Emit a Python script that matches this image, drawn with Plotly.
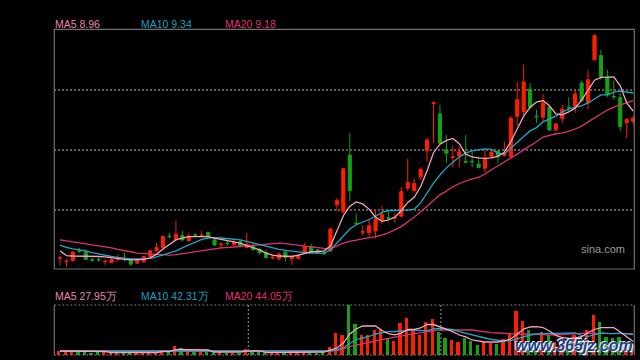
import plotly.graph_objects as go

# ---- price data (one entry per trading day) ----
open_ = [5.85, 5.78, 5.80, 6.01, 5.99, 5.82, 5.83, 5.78, 5.76, 5.83,
         5.84, 5.82, 5.75, 5.78, 5.89, 6.01, 6.08, 6.32, 6.25, 6.33,
         6.22, 6.35, 6.33, 6.40, 6.24, 6.14, 6.17, 6.14, 6.20, 6.08,
         6.12, 6.04, 5.97, 5.86, 5.84, 5.98, 5.84, 5.85, 5.97, 6.10,
         6.03, 5.96, 6.01, 6.98, 6.84, 8.03, 6.59, 6.40, 6.39, 6.43,
         6.66, 6.71, 6.70, 6.74, 7.33, 7.28, 7.57, 8.12, 9.12, 8.90,
         8.14, 7.98, 8.01, 7.89, 7.90, 7.84, 7.75, 8.00, 8.11, 8.02,
         8.00, 8.85, 8.95, 9.42, 8.85, 8.83, 9.04, 8.56, 8.80, 9.04,
         9.06, 9.55, 9.13, 10.04, 10.13, 9.67, 9.27, 9.24, 8.71, 8.74]
close = [5.86, 5.79, 5.98, 6.00, 5.83, 5.81, 5.82, 5.79, 5.83, 5.84,
         5.83, 5.73, 5.82, 5.89, 6.01, 6.08, 6.31, 6.31, 6.36, 6.24,
         6.32, 6.34, 6.34, 6.31, 6.13, 6.15, 6.16, 6.19, 6.11, 6.15,
         6.04, 5.97, 5.87, 5.87, 5.94, 5.87, 5.87, 5.91, 6.10, 5.99,
         5.98, 5.95, 6.47, 7.07, 7.74, 7.28, 6.58, 6.41, 6.54, 6.67,
         6.78, 6.70, 6.71, 7.26, 7.45, 7.43, 7.73, 8.35, 9.14, 8.28,
         8.07, 7.99, 8.10, 7.88, 7.89, 7.77, 7.96, 8.09, 8.00, 8.07,
         8.81, 9.20, 9.57, 9.04, 8.84, 9.13, 8.56, 8.69, 9.00, 9.03,
         9.32, 9.18, 9.62, 10.55, 9.69, 9.30, 9.26, 8.63, 8.78, 8.81]
high = [5.90, 5.84, 6.01, 6.07, 6.04, 5.86, 5.87, 5.83, 5.85, 5.93,
        5.97, 5.85, 5.85, 5.90, 6.04, 6.18, 6.33, 6.38, 6.65, 6.43,
        6.38, 6.38, 6.43, 6.41, 6.26, 6.19, 6.24, 6.27, 6.24, 6.38,
        6.17, 6.08, 6.03, 5.92, 5.98, 6.03, 5.92, 5.94, 6.18, 6.15,
        6.05, 6.01, 6.49, 7.12, 7.76, 8.50, 6.80, 6.54, 6.66, 6.87,
        6.96, 6.84, 6.80, 7.36, 7.95, 7.54, 7.77, 8.40, 9.16, 9.09,
        8.45, 8.23, 8.21, 8.45, 8.10, 8.00, 8.14, 8.14, 8.14, 8.32,
        8.85, 9.57, 9.94, 9.55, 8.99, 9.32, 9.09, 8.71, 9.09, 9.25,
        9.41, 9.60, 9.82, 10.58, 10.25, 9.83, 9.60, 9.34, 8.81, 8.86]
low = [5.70, 5.67, 5.79, 5.96, 5.82, 5.78, 5.78, 5.71, 5.75, 5.78,
       5.79, 5.69, 5.73, 5.76, 5.87, 5.99, 6.06, 6.27, 6.24, 6.21,
       6.21, 6.31, 6.30, 6.30, 6.12, 6.05, 6.12, 6.12, 6.08, 6.06,
       6.01, 5.94, 5.85, 5.83, 5.80, 5.78, 5.72, 5.83, 5.94, 5.97,
       5.96, 5.92, 5.99, 6.84, 6.80, 7.05, 6.57, 6.34, 6.31, 6.27,
       6.58, 6.67, 6.60, 6.73, 7.28, 7.26, 7.50, 7.89, 8.28, 8.26,
       7.87, 7.77, 7.77, 7.86, 7.77, 7.75, 7.67, 7.97, 7.86, 8.00,
       7.98, 8.64, 8.87, 8.99, 8.71, 8.73, 8.54, 8.54, 8.71, 8.95,
       8.92, 9.15, 8.99, 10.03, 9.62, 9.25, 9.20, 8.53, 8.39, 8.67]

ma5 = [6.01, 5.91, 5.90, 5.90, 5.90, 5.90, 5.89, 5.88, 5.86, 5.84,
       5.83, 5.82, 5.82, 5.83, 5.86, 5.94, 6.05, 6.15, 6.24, 6.28,
       6.31, 6.31, 6.31, 6.31, 6.28, 6.25, 6.22, 6.19, 6.17, 6.12,
       6.08, 6.03, 5.96, 5.92, 5.90, 5.89, 5.89, 5.92, 5.96, 5.99,
       5.99, 6.01, 6.11, 6.45, 6.75, 6.95, 7.04, 7.00, 6.89, 6.72,
       6.63, 6.66, 6.72, 6.86, 7.03, 7.14, 7.36, 7.70, 8.08, 8.26,
       8.34, 8.38, 8.27, 8.05, 7.99, 7.97, 7.96, 7.97, 8.00, 8.09,
       8.31, 8.58, 8.85, 9.04, 9.15, 9.18, 9.07, 8.90, 8.88, 8.94,
       9.02, 9.19, 9.40, 9.61, 9.67, 9.67, 9.68, 9.49, 9.13, 8.96]
ma10 = [6.13, 6.08, 6.05, 6.03, 6.01, 5.97, 5.94, 5.92, 5.89, 5.87,
        5.85, 5.84, 5.84, 5.84, 5.85, 5.88, 5.92, 5.96, 6.01, 6.07,
        6.13, 6.20, 6.25, 6.28, 6.29, 6.28, 6.27, 6.26, 6.24, 6.21,
        6.17, 6.14, 6.11, 6.07, 6.04, 6.02, 6.00, 5.99, 5.97, 5.96,
        5.96, 5.96, 6.03, 6.18, 6.34, 6.47, 6.56, 6.61, 6.67, 6.74,
        6.82, 6.86, 6.87, 6.87, 6.87, 6.89, 7.02, 7.23, 7.44, 7.61,
        7.76, 7.88, 7.99, 8.07, 8.12, 8.14, 8.16, 8.15, 8.07, 8.05,
        8.18, 8.31, 8.42, 8.54, 8.61, 8.73, 8.79, 8.85, 8.94, 9.00,
        9.04, 9.07, 9.13, 9.21, 9.30, 9.30, 9.36, 9.38, 9.36, 9.34]
ma20 = [6.24, 6.22, 6.20, 6.17, 6.15, 6.13, 6.11, 6.09, 6.07, 6.04,
        6.02, 5.99, 5.96, 5.95, 5.94, 5.93, 5.92, 5.92, 5.93, 5.95,
        5.97, 6.00, 6.02, 6.03, 6.05, 6.07, 6.08, 6.09, 6.10, 6.12,
        6.13, 6.14, 6.15, 6.16, 6.17, 6.16, 6.15, 6.13, 6.11, 6.09,
        6.07, 6.06, 6.05, 6.11, 6.17, 6.21, 6.24, 6.27, 6.29, 6.31,
        6.34, 6.39, 6.45, 6.52, 6.62, 6.72, 6.83, 6.95, 7.08, 7.19,
        7.27, 7.36, 7.43, 7.48, 7.53, 7.56, 7.63, 7.72, 7.80, 7.88,
        7.97, 8.05, 8.14, 8.22, 8.31, 8.41, 8.45, 8.48, 8.50, 8.53,
        8.58, 8.64, 8.73, 8.81, 8.90, 8.98, 9.04, 9.09, 9.13, 9.18]

# ---- volume data (万股) ----
volume = [8.3, 8.3, 8.3, 6.2, 6.2, 4.1, 6.2, 5.2, 4.1, 4.1,
          4.1, 4.1, 4.1, 5.2, 5.2, 5.2, 10.4, 6.2, 18.6, 14.5,
          7.2, 6.2, 6.2, 6.2, 5.2, 5.2, 4.1, 4.1, 4.1, 12.4,
          5.2, 5.2, 4.1, 4.1, 4.1, 4.1, 4.1, 4.1, 5.2, 5.2,
          4.1, 6.8, 16.6, 45.5, 41.4, 103.5, 64.2, 41.4, 41.4, 51.8,
          53.8, 33.1, 29.0, 66.2, 76.6, 51.8, 41.4, 68.3, 74.5, 47.6,
          35.2, 31.1, 26.9, 34.2, 29.0, 20.7, 26.9, 24.8, 23.8, 32.1,
          43.5, 91.1, 70.4, 51.8, 26.9, 47.6, 41.4, 26.9, 33.1, 26.9,
          41.4, 37.3, 51.8, 82.8, 68.3, 37.3, 35.2, 37.3, 20.7, 10.4]
vma5 = [8.3, 8.3, 8.3, 7.2, 7.2, 7.2, 7.2, 7.2, 5.2, 5.2,
        5.2, 5.2, 5.2, 5.2, 5.2, 5.2, 7.2, 7.2, 11.4, 11.4,
        11.4, 10.4, 10.4, 10.4, 6.2, 6.2, 6.2, 6.2, 6.2, 8.3,
        8.3, 8.3, 5.2, 5.2, 5.2, 5.2, 5.2, 5.2, 5.2, 5.2,
        5.2, 6.2, 10.4, 14.5, 24.8, 43.5, 53.8, 60.0, 60.0, 60.0,
        50.7, 44.3, 41.8, 45.5, 52.8, 53.2, 55.9, 63.1, 63.1, 58.0,
        53.8, 48.2, 41.4, 37.3, 31.1, 29.0, 26.9, 26.9, 26.9, 29.0,
        33.1, 43.5, 53.8, 58.0, 58.6, 56.9, 49.7, 40.4, 36.2, 34.6,
        35.2, 37.9, 46.6, 52.8, 56.5, 56.5, 56.5, 47.6, 37.3, 27.95]
vma10 = [8.3, 8.3, 8.3, 8.3, 8.3, 8.3, 8.3, 8.3, 6.8, 6.8,
         6.8, 6.8, 6.8, 6.8, 6.8, 6.8, 8.3, 8.3, 8.3, 8.3,
         8.3, 8.3, 8.3, 8.3, 8.3, 8.3, 8.3, 8.3, 8.3, 8.3,
         6.8, 6.8, 6.8, 6.8, 6.8, 6.8, 6.8, 6.8, 6.8, 6.8,
         6.8, 6.8, 8.3, 11.4, 14.5, 23.8, 32.1, 35.2, 38.3, 43.5,
         46.6, 48.2, 48.6, 49.7, 51.8, 51.8, 50.7, 50.3, 53.8, 55.3,
         53.8, 53.2, 48.6, 44.9, 41.4, 37.9, 35.2, 32.1, 31.1, 29.0,
         30.0, 34.2, 38.3, 41.4, 43.5, 44.5, 44.9, 44.9, 44.9, 44.9,
         45.8, 40.4, 38.5, 41.6, 45.8, 44.7, 44.1, 45.1, 43.9, 42.31]
vma20 = [8.3, 8.3, 8.3, 8.3, 8.3, 8.3, 8.3, 8.3, 8.3, 8.3,
         8.3, 8.3, 8.3, 8.3, 8.3, 8.3, 8.3, 8.3, 8.3, 8.3,
         7.2, 7.2, 7.2, 7.2, 7.2, 7.2, 7.2, 7.2, 7.2, 7.2,
         7.2, 7.2, 7.2, 7.2, 7.2, 7.2, 7.2, 7.2, 7.2, 7.2,
         7.2, 7.2, 8.3, 9.3, 12.4, 17.6, 20.7, 22.8, 25.9, 29.0,
         32.1, 34.2, 36.2, 39.3, 42.4, 44.5, 46.6, 48.6, 50.7, 51.8,
         51.8, 51.8, 51.8, 51.8, 51.8, 49.7, 47.6, 46.2, 45.5, 44.5,
         43.5, 43.5, 43.5, 43.5, 42.4, 42.4, 41.4, 41.4, 42.4, 43.5,
         44.5, 44.9, 44.9, 44.9, 44.9, 44.9, 44.9, 44.5, 44.5, 44.05]

price_labels = ["MA5 8.96", "MA10 9.34", "MA20 9.18"]
volume_labels = ["MA5 27.95万", "MA10 42.31万", "MA20 44.05万"]
month_breaks = [29.25, 59.15]   # separators drawn in the volume pane

UP = "#ff1e00"
DOWN = "#14a214"
C5 = "#f2a3bd"
C10 = "#1ca6c6"
C20 = "#d8336e"
T5 = "#e888a6"
T10 = "#1a9fbf"
T20 = "#e0306c"

idx = list(range(len(close)))
W, H = 640, 360
XL, XR = 54.3 / W, 634.3 / W

fig = go.Figure()
fig.add_trace(go.Candlestick(
    x=idx, open=open_, high=high, low=low, close=close,
    increasing=dict(line=dict(color=UP, width=1), fillcolor=UP),
    decreasing=dict(line=dict(color=DOWN, width=1), fillcolor=DOWN),
    whiskerwidth=0, hoverinfo="skip", xaxis="x", yaxis="y"))
for arr, col in ((ma20, C20), (ma10, C10), (ma5, C5)):
    fig.add_trace(go.Scatter(x=idx, y=arr, mode="lines",
                             line=dict(color=col, width=1.3),
                             hoverinfo="skip", xaxis="x", yaxis="y"))

bar_colors = [UP if c >= o else DOWN for o, c in zip(open_, close)]
fig.add_trace(go.Bar(x=idx, y=volume, width=0.5, offset=-0.45,
                     marker=dict(color=bar_colors, line=dict(width=0)),
                     hoverinfo="skip", xaxis="x2", yaxis="y2"))
for arr, col in ((vma20, C20), (vma10, C10), (vma5, C5)):
    fig.add_trace(go.Scatter(x=idx, y=arr, mode="lines",
                             line=dict(color=col, width=1.3),
                             hoverinfo="skip", xaxis="x2", yaxis="y2"))

xr = [-0.885, 89.18]
grid_prices = [6.871, 8.137, 9.403]
fig.update_layout(
    width=W, height=H, margin=dict(l=0, r=0, t=0, b=0),
    paper_bgcolor="black", plot_bgcolor="black", showlegend=False,
    xaxis=dict(domain=[XL, XR], range=xr, showgrid=False, zeroline=False,
               showticklabels=False, ticks="", rangeslider=dict(visible=False),
               anchor="y"),
    yaxis=dict(domain=[1 - 269 / H, 1 - 29.3 / H], range=[5.626, 10.684],
               tickvals=grid_prices, showticklabels=False, ticks="",
               showgrid=True, gridcolor="#5c5c5c", gridwidth=1.2,
               griddash="2px,2px", zeroline=False, anchor="x"),
    xaxis2=dict(domain=[XL, XR], range=xr, showgrid=False, zeroline=False,
                showticklabels=False, ticks="", anchor="y2"),
    yaxis2=dict(domain=[1 - 355 / H, 1 - 305 / H], range=[0, 103.5],
                showgrid=False, zeroline=False, showticklabels=False,
                ticks="", anchor="x2"),
    bargap=0,
)

border = "#707070"
shapes = [
    dict(type="rect", xref="x domain", yref="y domain", x0=0, x1=1, y0=0, y1=1,
         line=dict(color=border, width=1.2)),
    dict(type="line", xref="x2 domain", yref="y2 domain", x0=0, x1=0, y0=0, y1=1,
         line=dict(color=border, width=1.2)),
    dict(type="line", xref="x2 domain", yref="y2 domain", x0=1, x1=1, y0=0, y1=1,
         line=dict(color=border, width=1.2)),
    dict(type="line", xref="x2 domain", yref="y2 domain", x0=0, x1=1, y0=1, y1=1,
         line=dict(color="#808080", width=1.2, dash="2px,2px")),
    dict(type="line", xref="x2 domain", yref="y2 domain", x0=0, x1=1, y0=0, y1=0,
         line=dict(color="#808080", width=1.2, dash="2px,2px")),
]
for b in month_breaks:
    shapes.append(dict(type="line", xref="x2", yref="y2 domain", x0=b, x1=b,
                       y0=0, y1=1, line=dict(color="#808080", width=1.2, dash="2px,2px")))
fig.update_layout(shapes=shapes)

ann = []
label_x = [55.3, 140.7, 225.3]
for txt, lx, col in zip(price_labels, label_x, (T5, T10, T20)):
    ann.append(dict(text=txt, x=(lx - 2) / W, y=1 - 24 / H, xref="paper", yref="paper",
                    xanchor="left", yanchor="middle", showarrow=False,
                    font=dict(family="Liberation Sans, Arial", size=10.5, color=col)))
for txt, lx, col in zip(volume_labels, label_x, (T5, T10, T20)):
    ann.append(dict(text=txt, x=(lx - 2) / W, y=1 - 295.5 / H, xref="paper", yref="paper",
                    xanchor="left", yanchor="middle", showarrow=False,
                    font=dict(family="Liberation Sans, Arial", size=10.5, color=col)))
ann.append(dict(text="sina.com", x=602.5 / W, y=1 - 249 / H, xref="paper", yref="paper",
                xanchor="center", yanchor="middle", showarrow=False,
                font=dict(family="Liberation Sans, Arial", size=11, color="#9a9a9a")))
ann.append(dict(text="www.365jz.com", x=574 / W, y=1 - 345 / H, xref="paper", yref="paper",
                xanchor="center", yanchor="middle", showarrow=False,
                font=dict(family="Liberation Sans, Arial", size=16, color="#1d3f85",
                          weight="bold", style="italic",
                          shadow="1px 1px 0 #ffffff, -1px -1px 0 #dfe6f0, 2px 2px 2px #888888")))
fig.update_layout(annotations=ann)

fig.write_html(
    "out.html",
    config={"displayModeBar": False, "staticPlot": True},
    post_script="document.body.style.margin='0';document.body.style.overflow='hidden';",
)
